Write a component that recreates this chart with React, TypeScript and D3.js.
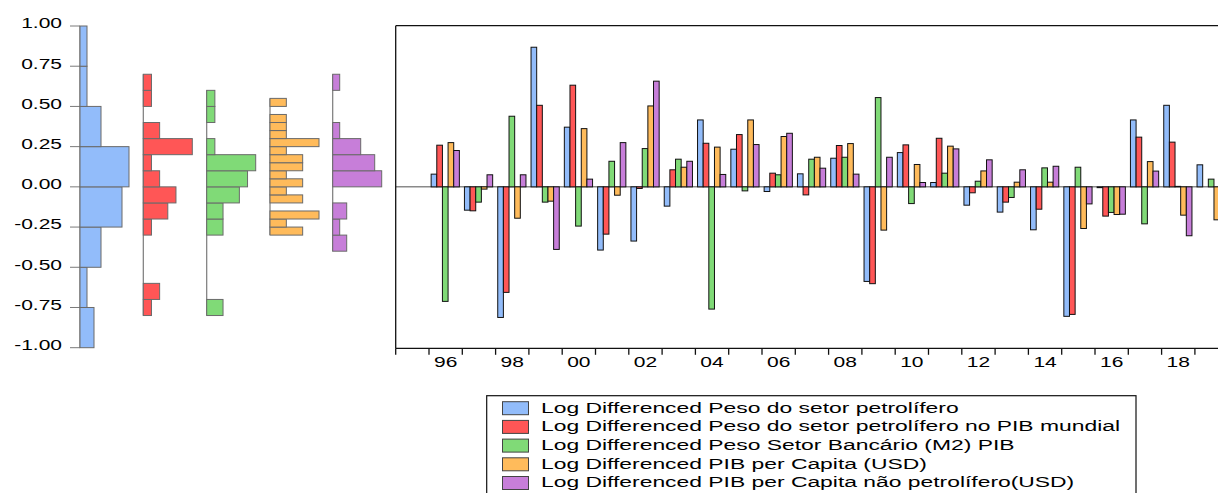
import { useEffect, useRef } from 'react'
import * as d3 from 'd3'

// yearly log differences, 1996..2019 (null = not shown)
const YEARS = [1996, 1997, 1998, 1999, 2000, 2001, 2002, 2003, 2004, 2005, 2006, 2007,
  2008, 2009, 2010, 2011, 2012, 2013, 2014, 2015, 2016, 2017, 2018, 2019]
const OIL_SHARE = [0.079, -0.145, -0.812, 0.868, 0.371, -0.393, -0.337, -0.12, 0.416, 0.234, -0.029, 0.081,
  0.178, -0.588, 0.213, 0.027, -0.114, -0.157, -0.267, -0.805, -0.005, 0.416, 0.507, 0.137]
const OIL_WORLD = [0.259, -0.149, -0.656, 0.507, 0.632, -0.294, -0.01, 0.106, 0.271, 0.325, 0.085, -0.05,
  0.257, -0.602, 0.261, 0.302, -0.037, -0.095, -0.139, -0.793, -0.182, 0.309, 0.278, null]
const BANK_M2 = [-0.712, -0.095, 0.439, -0.095, -0.244, 0.159, 0.238, 0.172, -0.76, -0.025, 0.075, 0.172,
  0.184, 0.555, -0.104, 0.085, 0.035, -0.066, 0.118, 0.122, -0.159, -0.23, 0.003, 0.048]
const GDP_PC = [0.275, -0.014, -0.195, -0.089, 0.362, -0.052, 0.503, 0.122, 0.247, 0.416, 0.313, 0.184,
  0.269, -0.269, 0.139, 0.253, 0.099, 0.029, 0.029, -0.259, -0.172, 0.157, -0.176, -0.205]
const GDP_PC_NONOIL = [0.226, 0.075, 0.075, -0.389, 0.048, 0.275, 0.657, 0.159, 0.077, 0.263, 0.333, 0.116,
  0.079, 0.184, 0.027, 0.236, 0.168, 0.106, 0.128, -0.106, -0.17, 0.098, -0.304, null]

const SERIES_NAMES = [
  'Log Differenced Peso do setor petrolífero',
  'Log Differenced Peso do setor petrolífero no PIB mundial',
  'Log Differenced Peso Setor Bancário (M2) PIB',
  'Log Differenced PIB per Capita (USD)',
  'Log Differenced PIB per Capita não petrolífero(USD)',
]
const COLORS = ['#92bcfa', '#ff5656', '#80da77', '#ffbb5b', '#c77ed9']

const Y_TICKS = [-1, -0.75, -0.5, -0.25, 0, 0.25, 0.5, 0.75, 1]

// histogram bins (edges low->high) and counts per bin
const HIST1_EDGES = [-1, -0.75, -0.5, -0.25, 0, 0.25, 0.5, 0.75, 1]
const HIST1_COUNTS = [2, 1, 3, 6, 7, 3, 1, 1]
const HIST2_EDGES = [-0.8, -0.7, -0.6, -0.5, -0.4, -0.3, -0.2, -0.1, 0, 0.1, 0.2, 0.3, 0.4, 0.5, 0.6, 0.7]
const HIST2_COUNTS = [1, 2, 0, 0, 0, 1, 3, 4, 2, 1, 6, 2, 0, 1, 1]
const HIST3_EDGES = [-0.8, -0.7, -0.6, -0.5, -0.4, -0.3, -0.2, -0.1, 0, 0.1, 0.2, 0.3, 0.4, 0.5, 0.6]
const HIST3_COUNTS = [2, 0, 0, 0, 0, 2, 2, 4, 5, 6, 1, 0, 1, 1]
const HIST4_EDGES = [-0.3, -0.25, -0.2, -0.15, -0.1, -0.05, 0, 0.05, 0.1, 0.15, 0.2, 0.25, 0.3, 0.35, 0.4, 0.45, 0.5, 0.55]
const HIST4_COUNTS = [2, 1, 3, 0, 2, 1, 2, 1, 2, 2, 1, 3, 1, 1, 1, 0, 1]
const HIST5_EDGES = [-0.4, -0.3, -0.2, -0.1, 0, 0.1, 0.2, 0.3, 0.4, 0.5, 0.6, 0.7]
const HIST5_COUNTS = [2, 1, 2, 0, 7, 6, 4, 1, 0, 0, 1]

const FONT = '"Liberation Sans", Arial, sans-serif'
const SX = 1.5 // the original picture is stretched horizontally

export default function App() {
  const svgRef = useRef<SVGSVGElement>(null)

  useEffect(() => {
    const svg = d3.select(svgRef.current)
    svg.selectAll('*').remove()
    const W = 1218, H = 493
    svg.attr('width', W).attr('height', H)
    const g = svg.append('g')
    g.append('rect').attr('width', W).attr('height', H).attr('fill', '#fff')

    const y = d3.scaleLinear().domain([-1, 1]).range([347.7, 26])

    const label = (x: number, yy: number, t: string, anchor: string, size: number, sx = SX) =>
      g.append('text').attr('transform', `translate(${x},${yy}) scale(${sx},1)`)
        .attr('text-anchor', anchor).attr('font-family', FONT).attr('font-size', size)
        .attr('fill', '#000').text(t)

    // Left axis
    Y_TICKS.forEach((t) => {
      g.append('line').attr('x1', 70).attr('x2', 80).attr('y1', y(t)).attr('y2', y(t))
        .attr('stroke', '#7a7a7a').attr('stroke-width', 1)
      label(62, y(t) + 2.4, t.toFixed(2), 'end', 14)
    })

    // Histograms
    const hists = [
      { edges: HIST1_EDGES, counts: HIST1_COUNTS, x0: 80 },
      { edges: HIST2_EDGES, counts: HIST2_COUNTS, x0: 143.3 },
      { edges: HIST3_EDGES, counts: HIST3_COUNTS, x0: 206.7 },
      { edges: HIST4_EDGES, counts: HIST4_COUNTS, x0: 270 },
      { edges: HIST5_EDGES, counts: HIST5_COUNTS, x0: 332.7 },
    ]
    hists.forEach(({ edges, counts, x0 }, si) => {
      const w = d3.scaleLinear().domain([0, d3.max(counts) as number]).range([0, 49])
      g.append('line').attr('x1', x0).attr('x2', x0)
        .attr('y1', y(edges[0])).attr('y2', y(edges[edges.length - 1]))
        .attr('stroke', '#7a7a7a').attr('stroke-width', 1.2)
      counts.forEach((c, i) => {
        if (!c) return
        g.append('rect').attr('x', x0).attr('y', y(edges[i + 1]))
          .attr('width', w(c)).attr('height', y(edges[i]) - y(edges[i + 1]))
          .attr('fill', COLORS[si]).attr('stroke', '#6a6a6a').attr('stroke-width', 1)
      })
    })

    // Bar chart
    const domainYears = d3.range(1995, 2020)
    const x = d3.scaleBand<number>().domain(domainYears).range([395.7, 395.7 + 25 * 33.3])
    const sub = d3.scaleBand<number>().domain([0, 1, 2, 3, 4]).range([0, x.bandwidth()])
      .paddingOuter(0.45)
    const series = [OIL_SHARE, OIL_WORLD, BANK_M2, GDP_PC, GDP_PC_NONOIL]

    // zero line
    g.append('line').attr('x1', 395.7).attr('x2', W).attr('y1', y(0)).attr('y2', y(0))
      .attr('stroke', '#8a8a8a').attr('stroke-width', 1.5)

    series.forEach((vals, si) => {
      vals.forEach((v, i) => {
        if (v === null) return
        const bx = (x(YEARS[i]) as number) + (sub(si) as number) - 0.4
        g.append('rect').attr('x', bx).attr('y', Math.min(y(v), y(0)))
          .attr('width', sub.bandwidth()).attr('height', Math.abs(y(v) - y(0)))
          .attr('fill', COLORS[si]).attr('stroke', '#111').attr('stroke-width', 1)
      })
    })

    // plot frame
    const top = 25.7, bottom = 348.3
    g.append('line').attr('x1', 395.7).attr('x2', W).attr('y1', top).attr('y2', top)
      .attr('stroke', '#111').attr('stroke-width', 1.3)
    g.append('line').attr('x1', 395.7).attr('x2', W).attr('y1', bottom).attr('y2', bottom)
      .attr('stroke', '#111').attr('stroke-width', 1.3)
    g.append('line').attr('x1', 395.7).attr('x2', 395.7).attr('y1', top).attr('y2', bottom)
      .attr('stroke', '#111').attr('stroke-width', 1.3)

    // x ticks + labels
    domainYears.forEach((yr) => {
      const tx = x(yr) as number
      g.append('line').attr('x1', tx).attr('x2', tx).attr('y1', bottom).attr('y2', bottom + 6.5)
        .attr('stroke', '#111').attr('stroke-width', 1.3)
      if (yr % 2 === 0) {
        label(tx + x.bandwidth() / 2, 367, String(yr).slice(2), 'middle', 14)
      }
    })

    // Legend
    const lx = 486.7, ly = 395.7
    g.append('rect').attr('x', lx).attr('y', ly).attr('width', 1136 - lx).attr('height', 120)
      .attr('fill', 'none').attr('stroke', '#111').attr('stroke-width', 1.2)
    SERIES_NAMES.forEach((name, i) => {
      const ry = 401.7 + i * 18.7
      g.append('rect').attr('x', 502.5).attr('y', ry).attr('width', 26).attr('height', 13)
        .attr('fill', COLORS[i]).attr('stroke', '#444').attr('stroke-width', 1)
      label(541, ry + 10.8, name, 'start', 15.2, 1.505)
    })
  }, [])

  return (
    <div style={{ position: 'absolute', left: 0, top: 0 }}>
      <svg ref={svgRef} style={{ display: 'block' }} />
    </div>
  )
}
